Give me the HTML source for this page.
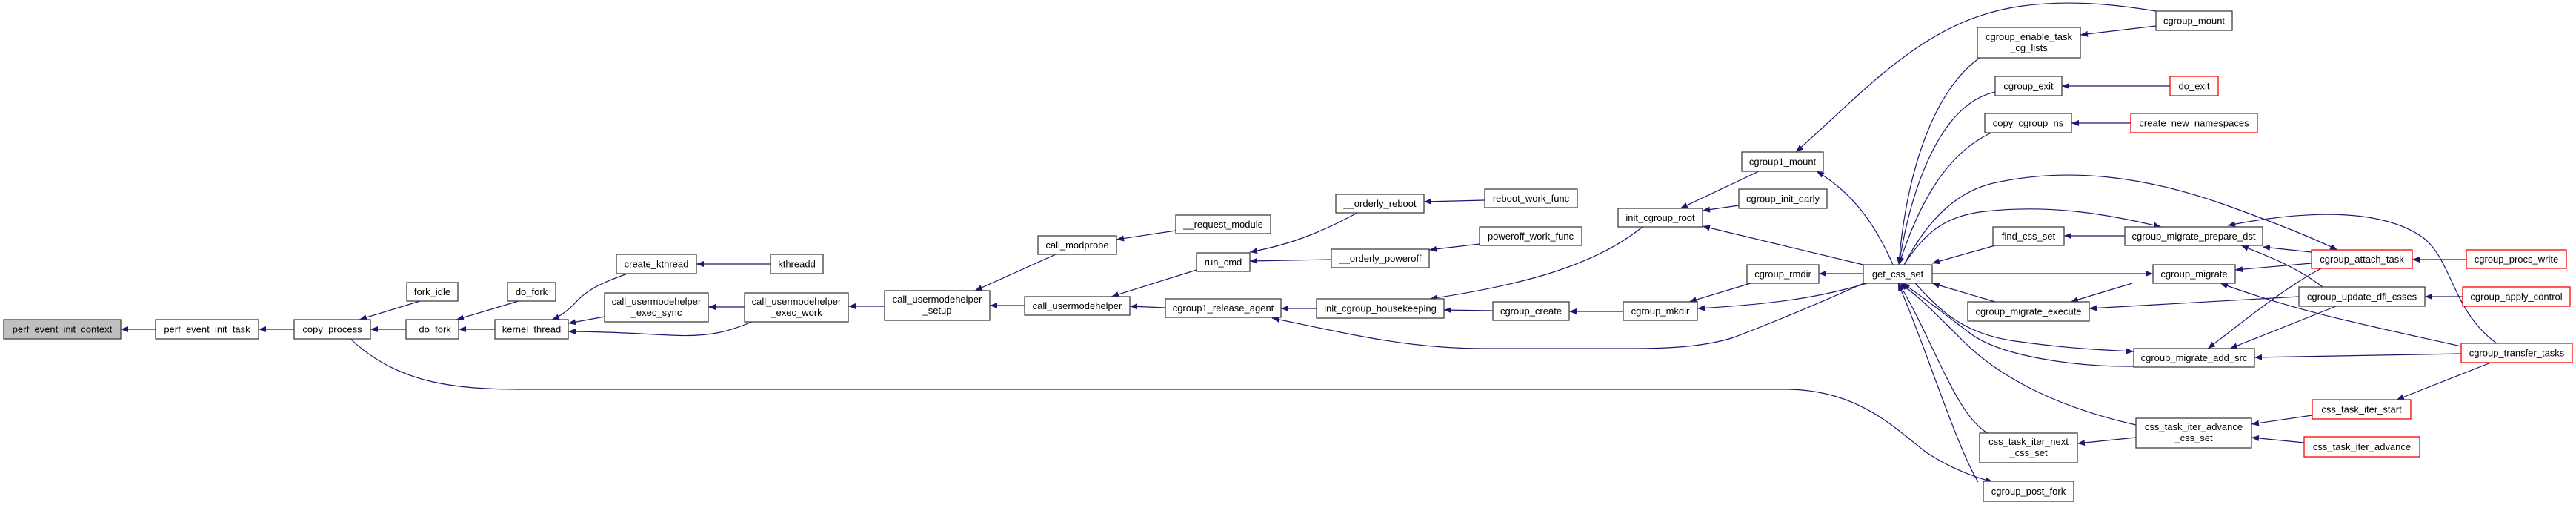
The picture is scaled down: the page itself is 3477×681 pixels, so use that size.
<!DOCTYPE html>
<html><head><meta charset="utf-8"><style>
html,body{margin:0;padding:0;background:#fff;}
svg{display:block;}
text{font-family:"Liberation Sans",Arial,sans-serif;font-size:13px;fill:#000;text-anchor:middle;}
.n{fill:#fff;stroke:#404040;stroke-width:1.3;}
.r{fill:#fff;stroke:#ff0000;stroke-width:1.3;}
.g{fill:#bfbfbf;stroke:#404040;stroke-width:1.3;}
path.e{fill:none;stroke:#191970;stroke-width:1.2;marker-end:url(#a);}
</style></head><body>
<svg width="3477" height="681" viewBox="0 0 3477 681" xmlns="http://www.w3.org/2000/svg">
<defs><marker id="a" viewBox="0 0 10 8" refX="10" refY="4" markerWidth="10" markerHeight="8" markerUnits="userSpaceOnUse" orient="auto"><path d="M0,0 L10,4 L0,8 z" fill="#191970"/></marker></defs>

<!-- edges -->
<path class="e" d="M210,444 L163,444"/>
<path class="e" d="M397,444 L349,444"/>
<path class="e" d="M548,444 L500,444"/>
<path class="e" d="M567,406 L485,431"/>
<path class="e" d="M668,444 L619,444"/>
<path class="e" d="M700,406 L616,431"/>
<path class="e" d="M847,369 C810,382 790,392 775,410 C765,420 755,427 745,431"/>
<path class="e" d="M816,427 L767,436"/>
<path class="e" d="M1015,434 C985,446 960,455 905,452 C860,450 820,447 767,447"/>
<path class="e" d="M1040,356 L940,356"/>
<path class="e" d="M1005,414 L956,414"/>
<path class="e" d="M1194,413 L1145,413"/>
<path class="e" d="M1425,343 L1316,392"/>
<path class="e" d="M1383,412 L1336,412"/>
<path class="e" d="M1587,311 L1507,323"/>
<path class="e" d="M1615,364 L1500,400"/>
<path class="e" d="M1573,415 L1525,413"/>
<path class="e" d="M1832,287 C1780,315 1740,330 1687,340"/>
<path class="e" d="M1797,350 L1687,352"/>
<path class="e" d="M2004,270 L1922,272"/>
<path class="e" d="M1997,329 L1929,337"/>
<path class="e" d="M1777,416 L1729,416"/>
<path class="e" d="M2520,380 C2430,420 2380,440 2340,455 C2300,468 2250,470 2200,470 L2000,470 C1900,470 1820,450 1717,429"/>
<path class="e" d="M2015,419 L1949,418"/>
<path class="e" d="M2217,306 C2150,360 2050,385 1930,403"/>
<path class="e" d="M2191,420 L2118,420"/>
<path class="e" d="M2374,231 L2268,281"/>
<path class="e" d="M2347,277 L2298,284"/>
<path class="e" d="M2515,357 L2298,305"/>
<path class="e" d="M2363,382 L2280,407"/>
<path class="e" d="M2520,382 C2460,400 2400,410 2291,416"/>
<path class="e" d="M2910,15 C2850,5 2790,0 2730,8 C2600,25 2520,120 2424,205"/>
<path class="e" d="M2910,35 L2808,47"/>
<path class="e" d="M2555,357 C2530,300 2500,260 2452,231"/>
<path class="e" d="M2672,78 C2600,130 2570,260 2563,357"/>
<path class="e" d="M2693,124 C2620,140 2580,250 2563,357"/>
<path class="e" d="M2688,179 C2620,210 2585,290 2563,357"/>
<path class="e" d="M2929,116 L2783,116"/>
<path class="e" d="M2876,166 L2796,166"/>
<path class="e" d="M2515,369 L2455,369"/>
<path class="e" d="M2693,331 L2608,355"/>
<path class="e" d="M2868,318 L2786,318"/>
<path class="e" d="M2570,357 C2600,310 2630,290 2680,285 C2770,275 2850,290 2917,306"/>
<path class="e" d="M2570,357 C2600,300 2640,255 2700,245 C2800,225 2900,240 3000,275 C3070,300 3120,320 3155,337"/>
<path class="e" d="M2608,369 L2906,369"/>
<path class="e" d="M2693,407 L2608,382"/>
<path class="e" d="M2585,382 C2620,420 2650,450 2720,460 C2790,470 2840,472 2880,474"/>
<path class="e" d="M2880,494 C2800,495 2700,480 2660,450 C2620,420 2595,400 2568,382"/>
<path class="e" d="M2883,573 C2780,550 2700,510 2650,460 C2610,420 2590,400 2565,382"/>
<path class="e" d="M2683,584 C2640,560 2610,460 2563,382"/>
<path class="e" d="M2670,650 C2640,600 2600,470 2562,382"/>
<path class="e" d="M473,457 C540,520 620,525 710,525 L2410,525 C2510,525 2560,580 2600,610 C2630,630 2660,642 2690,650"/>
<path class="e" d="M2878,382 L2795,407"/>
<path class="e" d="M3103,400 L2820,416"/>
<path class="e" d="M3120,340 L3054,333"/>
<path class="e" d="M3120,355 L3017,364"/>
<path class="e" d="M3135,387 C3100,360 3060,345 3025,331"/>
<path class="e" d="M3370,463 C3310,420 3310,350 3270,320 C3220,285 3130,280 3007,304"/>
<path class="e" d="M3329,350 L3256,350"/>
<path class="e" d="M3324,400 L3273,400"/>
<path class="e" d="M3133,362 C3080,390 3020,440 2980,470"/>
<path class="e" d="M3153,413 L3010,470"/>
<path class="e" d="M3322,467 C3200,440 3100,420 2997,382"/>
<path class="e" d="M3322,477 L3043,482"/>
<path class="e" d="M3362,489 L3235,539"/>
<path class="e" d="M3121,560 L3039,572"/>
<path class="e" d="M3110,597 L3039,590"/>
<path class="e" d="M2883,590 L2804,598"/>

<!-- nodes -->
<rect class="g" x="5" y="431" width="158" height="26"/><text x="84" y="448.5">perf_event_init_context</text>
<rect class="n" x="210" y="431" width="139" height="26"/><text x="279.5" y="448.5">perf_event_init_task</text>
<rect class="n" x="397" y="431" width="103" height="26"/><text x="448.5" y="448.5">copy_process</text>
<rect class="n" x="549" y="381" width="69" height="25"/><text x="583.5" y="398">fork_idle</text>
<rect class="n" x="685" y="381" width="65" height="25"/><text x="717.5" y="398">do_fork</text>
<rect class="n" x="548" y="431" width="71" height="26"/><text x="583.5" y="448.5">_do_fork</text>
<rect class="n" x="668" y="431" width="99" height="26"/><text x="717.5" y="448.5">kernel_thread</text>
<rect class="n" x="832" y="343" width="108" height="26"/><text x="886" y="360.5">create_kthread</text>
<rect class="n" x="1040" y="343" width="71" height="26"/><text x="1075.5" y="360.5">kthreadd</text>
<rect class="n" x="816" y="395" width="140" height="39"/><text x="886" y="411">call_usermodehelper</text><text x="886" y="426">_exec_sync</text>
<rect class="n" x="1005" y="395" width="140" height="39"/><text x="1075" y="411">call_usermodehelper</text><text x="1075" y="426">_exec_work</text>
<rect class="n" x="1194" y="392" width="142" height="40"/><text x="1265" y="408">call_usermodehelper</text><text x="1265" y="423">_setup</text>
<rect class="n" x="1401" y="318" width="106" height="25"/><text x="1454" y="335">call_modprobe</text>
<rect class="n" x="1587" y="290" width="128" height="25"/><text x="1651" y="307">__request_module</text>
<rect class="n" x="1383" y="400" width="142" height="25"/><text x="1454" y="417">call_usermodehelper</text>
<rect class="n" x="1615" y="341" width="72" height="25"/><text x="1651" y="358">run_cmd</text>
<rect class="n" x="1803" y="262" width="119" height="25"/><text x="1862.5" y="279">__orderly_reboot</text>
<rect class="n" x="2004" y="255" width="125" height="25"/><text x="2066.5" y="272">reboot_work_func</text>
<rect class="n" x="1997" y="306" width="138" height="25"/><text x="2066" y="323">poweroff_work_func</text>
<rect class="n" x="1797" y="336" width="132" height="25"/><text x="1863" y="353">__orderly_poweroff</text>
<rect class="n" x="1573" y="403" width="156" height="25"/><text x="1651" y="420">cgroup1_release_agent</text>
<rect class="n" x="1777" y="403" width="172" height="26"/><text x="1863" y="420.5">init_cgroup_housekeeping</text>
<rect class="n" x="2015" y="407" width="103" height="25"/><text x="2066.5" y="424">cgroup_create</text>
<rect class="n" x="2191" y="407" width="100" height="25"/><text x="2241" y="424">cgroup_mkdir</text>
<rect class="n" x="2184" y="281" width="114" height="25"/><text x="2241" y="298">init_cgroup_root</text>
<rect class="n" x="2351" y="205" width="110" height="26"/><text x="2406" y="222.5">cgroup1_mount</text>
<rect class="n" x="2347" y="255" width="119" height="26"/><text x="2406.5" y="272.5">cgroup_init_early</text>
<rect class="n" x="2358" y="357" width="97" height="25"/><text x="2406.5" y="374">cgroup_rmdir</text>
<rect class="n" x="2515" y="357" width="93" height="25"/><text x="2561.5" y="374">get_css_set</text>
<rect class="n" x="2910" y="15" width="103" height="26"/><text x="2961.5" y="32.5">cgroup_mount</text>
<rect class="n" x="2669" y="37" width="139" height="41"/><text x="2738.5" y="54">cgroup_enable_task</text><text x="2738.5" y="69">_cg_lists</text>
<rect class="n" x="2693" y="103" width="90" height="26"/><text x="2738" y="120.5">cgroup_exit</text>
<rect class="r" x="2929" y="103" width="65" height="26"/><text x="2961.5" y="120.5">do_exit</text>
<rect class="n" x="2679" y="153" width="117" height="26"/><text x="2737.5" y="170.5">copy_cgroup_ns</text>
<rect class="r" x="2876" y="153" width="171" height="26"/><text x="2961.5" y="170.5">create_new_namespaces</text>
<rect class="n" x="2690" y="306" width="96" height="25"/><text x="2738" y="323">find_css_set</text>
<rect class="n" x="2868" y="306" width="186" height="25"/><text x="2961" y="323">cgroup_migrate_prepare_dst</text>
<rect class="n" x="2906" y="357" width="111" height="25"/><text x="2961.5" y="374">cgroup_migrate</text>
<rect class="n" x="2656" y="407" width="164" height="26"/><text x="2738" y="424.5">cgroup_migrate_execute</text>
<rect class="r" x="3120" y="337" width="136" height="25"/><text x="3188" y="354">cgroup_attach_task</text>
<rect class="r" x="3329" y="337" width="135" height="25"/><text x="3396.5" y="354">cgroup_procs_write</text>
<rect class="n" x="3103" y="387" width="170" height="26"/><text x="3188" y="404.5">cgroup_update_dfl_csses</text>
<rect class="r" x="3324" y="387" width="145" height="26"/><text x="3396.5" y="404.5">cgroup_apply_control</text>
<rect class="n" x="2880" y="470" width="163" height="25"/><text x="2961.5" y="487">cgroup_migrate_add_src</text>
<rect class="r" x="3322" y="463" width="150" height="26"/><text x="3397" y="480.5">cgroup_transfer_tasks</text>
<rect class="r" x="3121" y="539" width="133" height="26"/><text x="3187.5" y="556.5">css_task_iter_start</text>
<rect class="n" x="2883" y="564" width="156" height="40"/><text x="2961" y="580">css_task_iter_advance</text><text x="2961" y="595">_css_set</text>
<rect class="r" x="3110" y="589" width="156" height="27"/><text x="3188" y="607">css_task_iter_advance</text>
<rect class="n" x="2672" y="584" width="132" height="40"/><text x="2738" y="600">css_task_iter_next</text><text x="2738" y="615">_css_set</text>
<rect class="n" x="2677" y="649" width="122" height="27"/><text x="2738" y="667">cgroup_post_fork</text>
</svg>
</body></html>
